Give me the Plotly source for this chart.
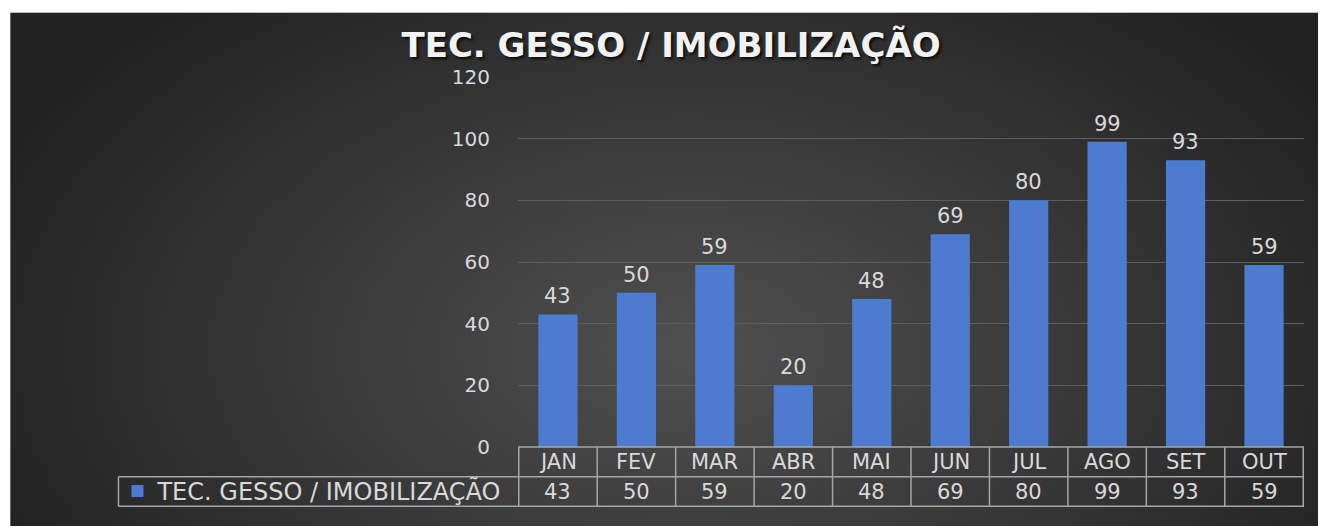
import base64
import math
import struct
import zlib

import plotly.graph_objects as go

TITULO = "TEC. GESSO / IMOBILIZAÇÃO"
MESES = ["JAN", "FEV", "MAR", "ABR", "MAI", "JUN", "JUL", "AGO", "SET", "OUT"]
VALORES = [43, 50, 59, 20, 48, 69, 80, 99, 93, 59]
Y_TICKS = [0, 20, 40, 60, 80, 100, 120]

AZUL = "#4d7bd0"
TEXTO = "#d9d9d9"
BORDA = "#a6a6a6"
FONTE = "DejaVu Sans"


def fundo_radial(w=220, h=90):
    # fundo cinza escuro com gradiente radial (estilo Excel)
    linhas = b""
    for j in range(h):
        linha = bytearray([0])
        for i in range(w):
            dx = (i / (w - 1) - 0.52) / 0.58
            dy = (j / (h - 1) - 0.65) / 0.9
            t = min(1.0, math.sqrt(dx * dx + dy * dy))
            linha.append(int(round(80 - 46 * t)))
        linhas += bytes(linha)

    def chunk(tipo, dados):
        c = struct.pack(">I", len(dados)) + tipo + dados
        return c + struct.pack(">I", zlib.crc32(tipo + dados) & 0xFFFFFFFF)

    png = b"\x89PNG\r\n\x1a\n"
    png += chunk(b"IHDR", struct.pack(">IIBBBBB", w, h, 8, 0, 0, 0, 0))
    png += chunk(b"IDAT", zlib.compress(linhas, 9))
    png += chunk(b"IEND", b"")
    return "data:image/png;base64," + base64.b64encode(png).decode()


fig = go.Figure(
    go.Bar(
        x=MESES,
        y=VALORES,
        name=TITULO,
        marker=dict(color=AZUL, line=dict(width=0)),
        showlegend=True,
    )
)

# rótulos de dados acima das barras
anotacoes = [
    dict(x=m, y=v, text=str(v), yanchor="bottom", yshift=4, showarrow=False,
         font=dict(size=21, color=TEXTO, family=FONTE))
    for m, v in zip(MESES, VALORES)
]

# tabela de dados por baixo do eixo
Y_TOPO, Y_MEIO, Y_BASE = 0.0, -0.0802, -0.1604
X_LEG = -0.5083
for m, v in zip(MESES, VALORES):
    anotacoes.append(dict(x=m, y=(Y_TOPO + Y_MEIO) / 2, yref="paper", text=m,
                          showarrow=False, yanchor="middle",
                          font=dict(size=21, color=TEXTO, family=FONTE)))
    anotacoes.append(dict(x=m, y=(Y_MEIO + Y_BASE) / 2, yref="paper", text=str(v),
                          showarrow=False, yanchor="middle",
                          font=dict(size=21, color=TEXTO, family=FONTE)))

linha = dict(color=BORDA, width=1.5)
formas = [
    dict(type="line", xref="paper", yref="paper", x0=0, x1=1, y0=Y_TOPO, y1=Y_TOPO, line=linha),
    dict(type="line", xref="paper", yref="paper", x0=X_LEG, x1=1, y0=Y_MEIO, y1=Y_MEIO, line=linha),
    dict(type="line", xref="paper", yref="paper", x0=X_LEG, x1=1, y0=Y_BASE, y1=Y_BASE, line=linha),
    dict(type="line", xref="paper", yref="paper", x0=X_LEG, x1=X_LEG, y0=Y_MEIO, y1=Y_BASE, line=linha),
]
for k in range(len(MESES) + 1):
    formas.append(dict(type="line", xref="x", yref="paper", x0=k - 0.5, x1=k - 0.5,
                       y0=Y_TOPO, y1=Y_BASE, line=linha))

fig.update_layout(
    width=1319,
    height=518,
    margin=dict(l=510, r=23, t=69, b=75),
    paper_bgcolor="white",
    plot_bgcolor="rgba(0,0,0,0)",
    bargap=0.5,
    title=dict(
        text=TITULO,
        x=0.5027, xref="container", xanchor="center",
        y=0.9286, yref="container", yanchor="middle",
        font=dict(family=FONTE, size=34, color="#f2f2f2", weight="bold",
                  shadow="2px 2px 3px rgba(0,0,0,0.8)"),
    ),
    xaxis=dict(showticklabels=False, showgrid=False, zeroline=False, showline=False),
    yaxis=dict(
        range=[0, 120], tickvals=Y_TICKS, showgrid=True, gridcolor="#5e5e5e", gridwidth=1,
        zeroline=False, showline=False, ticklabelstandoff=27,
        tickfont=dict(family=FONTE, size=20, color=TEXTO),
    ),
    legend=dict(
        x=-0.5096, xanchor="left", y=(Y_MEIO + Y_BASE) / 2, yanchor="middle",
        bgcolor="rgba(0,0,0,0)", font=dict(family=FONTE, size=24, color=TEXTO),
    ),
    annotations=anotacoes,
    shapes=formas,
    images=[dict(
        source=fundo_radial(), xref="paper", yref="paper",
        x=-0.6459, y=1.1738, sizex=1.6637, sizey=1.40,
        xanchor="left", yanchor="top", sizing="stretch", layer="below",
    )],
)

fig.write_html("out.html")
